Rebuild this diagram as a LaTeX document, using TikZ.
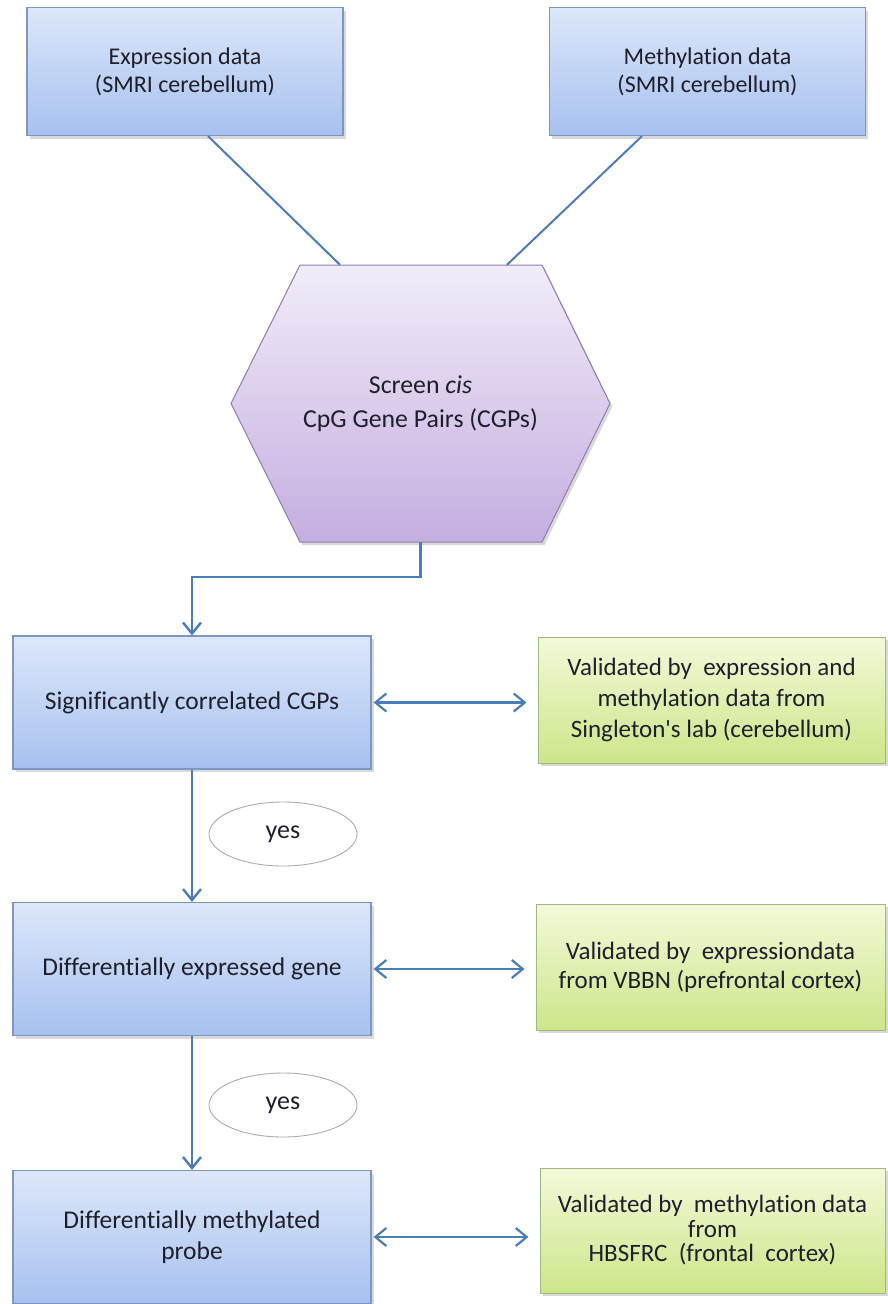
\documentclass[tikz,border=0pt]{standalone}
\usepackage{fontspec}
\setmainfont{Carlito}[Ligatures=NoCommon]
\usetikzlibrary{arrows.meta,shadows,calc,shapes.geometric}
\definecolor{linec}{HTML}{4A7EBB}
\definecolor{bluetop}{HTML}{DDE7FA}
\definecolor{bluebot}{HTML}{A6C1EF}
\definecolor{blueline}{HTML}{7D96C2}
\definecolor{greentop}{HTML}{F3F9D9}
\definecolor{greenbot}{HTML}{CDE689}
\definecolor{greenline}{HTML}{A3B87A}
\definecolor{hextop}{HTML}{F1ECF9}
\definecolor{hexbot}{HTML}{C4AEE0}
\definecolor{hexline}{HTML}{8F7DAB}
\definecolor{txt}{HTML}{1F1F2B}
\begin{document}
\begin{tikzpicture}[x=1pt,y=-1pt,
  shade/.style={drop shadow={shadow xshift=2.5pt,shadow yshift=-3pt,opacity=0.3}},
  bluebox/.style={draw=blueline, line width=1.2pt, top color=bluetop, bottom color=bluebot,
    shade, minimum width=358pt, minimum height=133pt, align=center, text=txt, inner sep=0pt,
    font=\fontsize{25.5}{31}\selectfont},
  topbox/.style={bluebox, minimum width=316pt, minimum height=128pt, font=\fontsize{24}{28}\selectfont},
  greenbox/.style={draw=greenline, line width=1pt, top color=greentop, bottom color=greenbot,
    shade, minimum width=347pt, minimum height=126pt, align=center, text=txt, inner sep=0pt,
    font=\fontsize{25}{31}\selectfont},
  conn/.style={draw=linec, line width=2.4pt},
  arr/.style={conn, -{Straight Barb[length=11pt,width=18pt]}},
  darr/.style={conn, line width=2.2pt, {Straight Barb[length=11pt,width=18pt]}-{Straight Barb[length=11pt,width=18pt]},
    shorten >=11pt, shorten <=2pt},
  yesnode/.style={draw=gray!65, line width=0.9pt, ellipse, fill=white, minimum width=148pt,
    minimum height=64pt, inner sep=0pt, text=txt, font=\fontsize{26}{28}\selectfont}
]
\useasboundingbox (0,0) rectangle (887,1304);

% top data boxes
\node[topbox] (expr) at (185,71.5) {Expression data\\(SMRI cerebellum)};
\node[topbox] (meth) at (707.5,71.5) {Methylation data\\(SMRI cerebellum)};

% hexagon
\path[draw=hexline, line width=1pt, top color=hextop, bottom color=hexbot, shade]
  (300,265) -- (542,265) -- (610,403.5) -- (542,542) -- (300,542) -- (231,403.5) -- cycle;
\node[minimum width=379pt, minimum height=277pt, inner sep=0pt, align=center, text=txt,
  font=\fontsize{25.8}{34}\selectfont] (hex) at (420.5,403.5)
  {Screen \textit{cis}\\CpG Gene Pairs (CGPs)};

% left column
\node[bluebox] (b1) at (192,702.5) {Significantly correlated CGPs};
\node[bluebox] (b2) at (192,969) {Differentially expressed gene};
\node[bluebox] (b3) at (192,1237) {Differentially methylated\\probe};

% right column
\node[greenbox] (g1) at (711.5,700) {Validated by\ \ expression and\\methylation data from\\Singleton\textquotesingle s lab (cerebellum)};
\node[greenbox, minimum width=349pt, font=\fontsize{25}{29}\selectfont] (g2) at (710.5,967) {Validated by\ \ expressiondata\\from VBBN (prefrontal cortex)};
\node[greenbox, minimum width=345pt, minimum height=125pt, font=\fontsize{25}{24.5}\selectfont] (g3) at (712.5,1230.5) {Validated by\ \ methylation data\\from\\HBSFRC\ \ (frontal\ \ cortex)};

% yes labels
\node[yesnode] (y1) at (283,834) {yes};
\node[yesnode] (y2) at (283,1105) {yes};

% connectors
\draw[conn, line width=2pt] ($(expr.south)+(23,0)$) -- ($(hex.north)+(-80.5,0)$);
\draw[conn, line width=2pt] ($(meth.south)+(-65.5,0)$) -- ($(hex.north)+(86.5,0)$);
\draw[arr] (hex.south) -- ++(0,35) -| (b1.north);
\draw[arr] (b1.south) -- (b2.north);
\draw[arr] (b2.south) -- (b3.north);
\draw[darr] (b1.east) -- (b1.east -| g1.west);
\draw[darr] (b2.east) -- (b2.east -| g2.west);
\draw[darr] (b3.east) -- (b3.east -| g3.west);
\end{tikzpicture}
\end{document}
